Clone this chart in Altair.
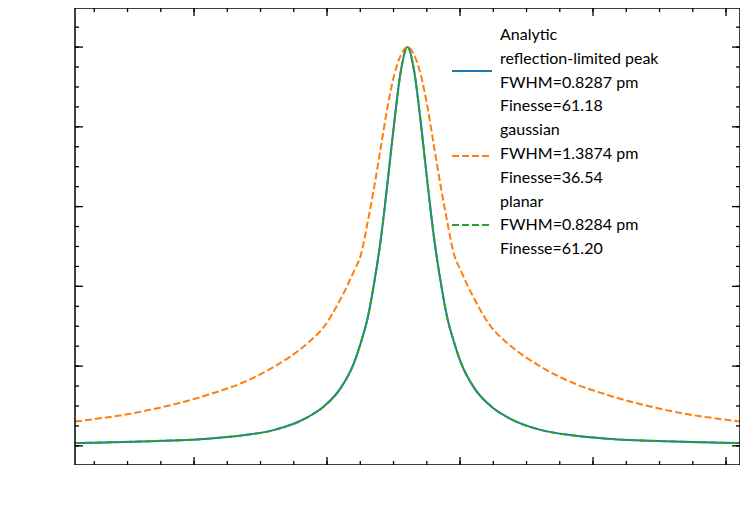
import altair as alt
import pandas as pd

offsets = [-0.005, -0.004, -0.003, -0.0025, -0.002, -0.0015, -0.00125, -0.001, -0.0008, -0.0007,
           -0.0006, -0.0005, -0.0004, -0.0003, -0.0002, -0.0001, 0.0]
blue_half = [0.007, 0.011, 0.018, 0.026, 0.040, 0.072, 0.10, 0.146, 0.21, 0.26, 0.32, 0.41, 0.52,
             0.66, 0.81, 0.94, 1.0]
orange_half = [0.061, 0.086, 0.128, 0.157, 0.199, 0.258, 0.30, 0.37, 0.44, 0.48, 0.56, 0.65, 0.75,
               0.85, 0.93, 0.98, 1.0]
center = 0.03121

xs = [center + o for o in offsets] + [center - o for o in reversed(offsets[:-1])]
blue = blue_half + list(reversed(blue_half[:-1]))
orange = orange_half + list(reversed(orange_half[:-1]))

rows = []
for s, ys in [("analytic", blue), ("gaussian", orange), ("planar", blue)]:
    for x, y in zip(xs, ys):
        rows.append({"x": x, "y": y, "s": s})
df = pd.DataFrame(rows)

W, H = 665, 457
XD = [0.02621, 0.03621]
YD = [-0.048, 1.098]
FONT = "Lato"
xscale = alt.Scale(domain=XD, nice=False, zero=False)
yscale = alt.Scale(domain=YD, nice=False, zero=False)

xmaj = [0.028, 0.030, 0.032, 0.034, 0.036]
xmin = [round(0.0265 + 0.0005 * i, 4) for i in range(20) if 0.0265 + 0.0005 * i <= 0.0362]
ymaj = [0.0, 0.2, 0.4, 0.6, 0.8, 1.0]
ymin = [round(0.05 * i, 2) for i in range(22)]

xaxis = alt.Axis(values=xmaj, format=".3f", title="Wavelength (nm)", grid=False, ticks=False,
                 labelFontSize=16, titleFontSize=20, labelPadding=12, titleFont=FONT, labelFont=FONT,
                 titleFontWeight="normal", domain=False, labelColor="black", titleColor="black",
                 titlePadding=4)
yaxis = alt.Axis(values=ymaj, format=".1f", title="Normalised intensity", grid=False, ticks=False,
                 labelFontSize=16, titleFontSize=20, labelPadding=10, titleFont=FONT, labelFont=FONT,
                 titleFontWeight="normal", domain=False, labelColor="black", titleColor="black",
                 titlePadding=8)

base = alt.Chart(df)
lines = alt.layer(
    base.transform_filter("datum.s=='analytic'").mark_line(color="#1f77b4", strokeWidth=2, interpolate="monotone").encode(
        x=alt.X("x:Q", scale=xscale, axis=xaxis), y=alt.Y("y:Q", scale=yscale, axis=yaxis)),
    base.transform_filter("datum.s=='gaussian'").mark_line(color="#ff7f0e", strokeWidth=2, strokeDash=[7, 3], interpolate="monotone").encode(
        x=alt.X("x:Q", scale=xscale, axis=None), y=alt.Y("y:Q", scale=yscale, axis=None)),
    base.transform_filter("datum.s=='planar'").mark_line(color="#2ca02c", strokeWidth=2, strokeDash=[7, 3], interpolate="monotone").encode(
        x=alt.X("x:Q", scale=xscale, axis=None), y=alt.Y("y:Q", scale=yscale, axis=None)),
)

def xticks(vals, L):
    d = pd.DataFrame({"v": vals})
    b = alt.Chart(d).mark_rule(color="black", strokeWidth=1.3)
    return (b.encode(x=alt.X("v:Q", scale=xscale, axis=None), y=alt.value(H), y2=alt.value(H - L)) +
            b.encode(x=alt.X("v:Q", scale=xscale, axis=None), y=alt.value(0), y2=alt.value(L)))

def yticks(vals, L):
    d = pd.DataFrame({"v": vals})
    b = alt.Chart(d).mark_rule(color="black", strokeWidth=1.3)
    return (b.encode(y=alt.Y("v:Q", scale=yscale, axis=None), x=alt.value(0), x2=alt.value(L)) +
            b.encode(y=alt.Y("v:Q", scale=yscale, axis=None), x=alt.value(W), x2=alt.value(W - L)))

frame = alt.Chart(pd.DataFrame({"a": [0]})).mark_rect(fill=None, stroke="black", strokeWidth=1.5).encode(
    x=alt.value(0), x2=alt.value(W), y=alt.value(0), y2=alt.value(H))

leg_lines = ["Analytic", "reflection-limited peak", "FWHM=0.8287 pm", "Finesse=61.18",
             "gaussian", "FWHM=1.3874 pm", "Finesse=36.54",
             "planar", "FWHM=0.8284 pm", "Finesse=61.20"]
leg_layers = []
for i, t in enumerate(leg_lines):
    leg_layers.append(alt.Chart(pd.DataFrame({"t": [t]})).mark_text(
        align="left", baseline="middle", fontSize=16, font=FONT, color="black").encode(
        text="t:N", x=alt.value(425), y=alt.value(27 + i * 23.8)))
for col, yy, dash in [("#1f77b4", 63, None), ("#ff7f0e", 148, [7, 3]), ("#2ca02c", 217, [7, 3])]:
    kw = dict(color=col, strokeWidth=2)
    if dash:
        kw["strokeDash"] = dash
    leg_layers.append(alt.Chart(pd.DataFrame({"a": [0]})).mark_rule(**kw).encode(
        x=alt.value(377), x2=alt.value(417), y=alt.value(yy)))
offset_text = alt.Chart(pd.DataFrame({"t": ["+7.8e2"]})).mark_text(
    align="right", baseline="top", fontSize=16, font=FONT, color="black").encode(
    text="t:N", x=alt.value(W + 2), y=alt.value(H + 33))

chart = alt.layer(lines, xticks(xmaj, 8), xticks(xmin, 4), yticks(ymaj, 8), yticks(ymin, 4),
                  frame, *leg_layers, offset_text).properties(
    width=W, height=H, autosize=alt.AutoSizeParams(type="none"),
    padding={"left": 67, "top": 0, "right": 0, "bottom": 0}
).configure_view(stroke=None)

chart.save("out.html", embed_options={"renderer": "svg", "actions": False})
